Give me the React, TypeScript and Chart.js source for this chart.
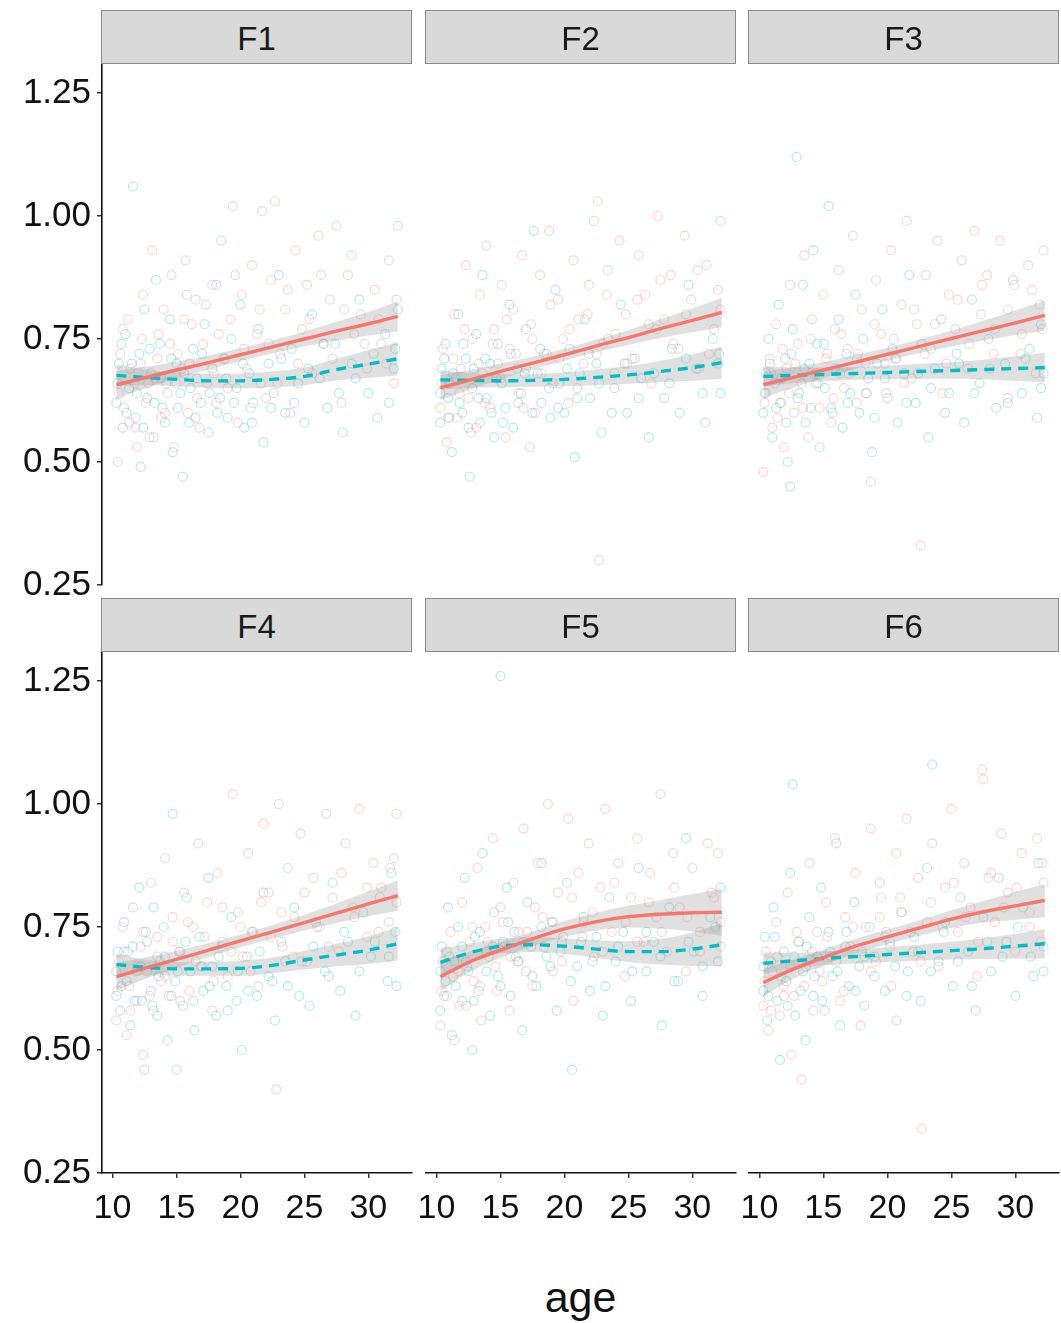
import React, { useEffect, useRef } from 'react';
import { Chart, registerables } from 'chart.js';

Chart.register(...registerables);

// ---- axes ----
const X_TICKS = [10, 15, 20, 25, 30];
const Y_TICKS = [0.25, 0.5, 0.75, 1.0, 1.25];
const X_MIN = 9.18;
const X_MAX = 33.41;
const Y_MIN = 0.25;
const Y_MAX = 1.309;
const X_TITLE = 'age';

// ages at which the smoothed fits are evaluated
const FIT_AGES = [10.3, 12.5, 15, 17.5, 20, 22.5, 25, 27.5, 30, 32.3];

// ---- F1 ----
const F1_PTS_A = [[10.4,0.50],[10.6,0.72],[10.9,0.61],[11.2,0.79],[11.3,0.58],[11.7,0.66],[11.9,0.53],[12.2,0.70],[12.4,0.84],[12.6,0.62],[12.9,0.55],[13.1,0.93],[13.3,0.67],[13.6,0.76],[13.8,0.59],[14.0,0.81],[14.3,0.64],[14.6,0.88],[14.8,0.53],[15.1,0.72],[15.4,0.69],[15.7,0.91],[15.9,0.60],[16.2,0.78],[16.5,0.83],[16.8,0.57],[17.1,0.74],[17.4,0.66],[17.8,0.86],[18.1,0.62],[18.5,0.95],[18.8,0.71],[19.2,0.79],[19.4,1.02],[19.8,0.58],[20.1,0.84],[20.5,0.69],[20.9,0.90],[21.3,0.76],[21.7,1.01],[22.0,0.63],[22.4,0.87],[22.7,1.03],[23.1,0.72],[23.5,0.81],[23.9,0.60],[24.3,0.93],[24.8,0.77],[25.2,0.86],[25.6,0.68],[26.1,0.96],[26.5,0.74],[27.0,0.83],[27.5,0.98],[27.9,0.62],[28.4,0.88],[28.9,0.76],[29.4,0.80],[29.9,0.69],[30.5,0.85],[31.0,0.74],[31.6,0.91],[32.3,0.98],[32.0,0.66]];
const F1_PTS_A_MID = [[10.5,0.64],[10.8,0.77],[11.4,0.69],[11.8,0.57],[12.3,0.75],[12.8,0.66],[13.5,0.71],[14.1,0.60],[14.5,0.74],[15.0,0.66],[15.6,0.79],[16.0,0.70],[16.6,0.63],[17.3,0.82],[17.9,0.68],[18.3,0.76],[19.0,0.65],[19.6,0.88],[20.3,0.73],[20.8,0.61],[21.5,0.81],[22.2,0.74],[22.9,0.66],[23.7,0.85],[24.5,0.70],[25.4,0.79],[26.3,0.88],[27.2,0.71],[28.1,0.81],[28.7,0.92],[29.7,0.74],[30.8,0.79],[31.4,0.70],[32.2,0.83]];
const F1_PTS_B = [[10.3,0.62],[10.5,0.70],[10.8,0.57],[11.0,0.76],[11.3,0.65],[11.6,1.06],[11.8,0.59],[12.1,0.72],[12.2,0.49],[12.5,0.81],[12.7,0.63],[13.0,0.68],[13.2,0.55],[13.4,0.87],[13.7,0.74],[13.9,0.61],[14.2,0.66],[14.5,0.79],[14.7,0.52],[15.0,0.70],[15.3,0.64],[15.5,0.47],[15.8,0.84],[16.0,0.58],[16.3,0.73],[16.6,0.67],[16.9,0.62],[17.2,0.78],[17.5,0.56],[17.8,0.69],[18.1,0.86],[18.4,0.63],[18.7,0.71],[19.0,0.59],[19.3,0.75],[19.7,0.65],[20.0,0.82],[20.3,0.57],[20.7,0.68],[21.0,0.62],[21.4,0.77],[21.8,0.54],[22.2,0.70],[22.6,0.64],[23.0,0.88],[23.5,0.60],[24.0,0.73],[24.5,0.66],[25.0,0.58],[25.6,0.80],[26.2,0.67],[26.8,0.61],[27.4,0.74],[28.0,0.56],[28.7,0.70],[29.3,0.83],[30.0,0.64],[30.7,0.59],[31.3,0.76],[32.0,0.69],[32.3,0.81]];
const F1_PTS_B_MID = [[10.4,0.66],[10.7,0.74],[11.1,0.60],[11.5,0.70],[11.9,0.64],[12.4,0.57],[12.9,0.73],[13.3,0.62],[13.8,0.67],[14.1,0.58],[14.6,0.71],[15.1,0.61],[15.6,0.68],[16.1,0.65],[16.5,0.59],[17.0,0.72],[17.6,0.64],[18.2,0.60],[18.9,0.67],[19.5,0.62],[20.2,0.70],[20.9,0.58],[21.6,0.66],[22.4,0.61],[23.2,0.71],[24.2,0.62],[25.3,0.69],[26.5,0.74],[27.7,0.64],[29.0,0.67],[30.4,0.72],[31.6,0.62],[32.1,0.73]];
const F1_FIT_A = [0.657, 0.671, 0.687, 0.702, 0.718, 0.734, 0.750, 0.766, 0.781, 0.796];
const F1_SE_A = [0.028, 0.022, 0.017, 0.014, 0.013, 0.013, 0.015, 0.019, 0.024, 0.030];
const F1_FIT_B = [0.676, 0.672, 0.668, 0.665, 0.665, 0.668, 0.674, 0.688, 0.699, 0.710];
const F1_SE_B = [0.022, 0.016, 0.014, 0.014, 0.015, 0.016, 0.018, 0.022, 0.028, 0.034];

// ---- F2 ----
const F2_PTS_A = [[10.3,0.61],[10.5,0.73],[10.8,0.54],[11.0,0.66],[11.4,0.80],[11.6,0.59],[11.9,0.69],[12.3,0.90],[12.5,0.63],[12.8,0.75],[13.1,0.57],[13.4,0.84],[13.6,0.68],[13.9,0.94],[14.2,0.61],[14.5,0.77],[14.8,0.70],[15.1,0.86],[15.4,0.55],[15.7,0.73],[16.0,0.81],[16.4,0.64],[16.7,0.92],[17.0,0.69],[17.4,0.78],[17.7,0.60],[18.1,0.88],[18.4,0.72],[18.8,0.97],[19.1,0.66],[19.5,0.83],[19.9,0.75],[20.3,0.62],[20.7,0.91],[21.1,0.79],[21.5,0.70],[21.9,0.86],[22.3,0.99],[22.6,1.03],[22.7,0.30],[23.0,0.74],[23.4,0.89],[23.9,0.68],[24.3,0.95],[24.8,0.80],[25.3,0.71],[25.8,0.92],[26.3,0.84],[26.8,0.66],[27.3,1.00],[27.8,0.79],[28.3,0.88],[28.9,0.73],[29.4,0.96],[29.9,0.83],[30.5,0.69],[31.1,0.90],[31.7,0.77],[32.2,0.99],[32.0,0.85]];
const F2_PTS_A_MID = [[10.4,0.66],[10.9,0.59],[11.3,0.71],[11.8,0.64],[12.2,0.77],[12.7,0.56],[13.3,0.70],[13.8,0.62],[14.4,0.74],[15.0,0.67],[15.5,0.79],[16.2,0.72],[16.8,0.61],[17.5,0.75],[18.2,0.68],[18.9,0.82],[19.6,0.71],[20.4,0.77],[21.0,0.65],[21.8,0.80],[22.5,0.72],[23.3,0.84],[24.0,0.76],[24.9,0.70],[25.7,0.83],[26.6,0.78],[27.5,0.87],[28.5,0.74],[29.5,0.80],[30.4,0.89],[31.3,0.72],[32.2,0.81]];
const F2_PTS_B = [[10.3,0.58],[10.4,0.69],[10.7,0.74],[10.9,0.63],[11.2,0.52],[11.5,0.67],[11.7,0.80],[12.0,0.60],[12.3,0.71],[12.6,0.47],[12.8,0.65],[13.1,0.76],[13.4,0.58],[13.6,0.88],[13.9,0.63],[14.2,0.70],[14.5,0.55],[14.8,0.74],[15.1,0.66],[15.4,0.61],[15.7,0.82],[16.0,0.57],[16.3,0.69],[16.6,0.64],[17.0,0.77],[17.3,0.53],[17.6,0.97],[17.9,0.68],[18.2,0.62],[18.6,0.72],[18.9,0.59],[19.3,0.85],[19.6,0.66],[20.0,0.60],[20.4,0.73],[20.8,0.51],[21.2,0.68],[21.6,0.79],[22.0,0.63],[22.5,0.70],[22.9,0.56],[23.4,0.75],[23.9,0.65],[24.4,0.82],[24.9,0.60],[25.5,0.71],[26.0,0.67],[26.6,0.55],[27.2,0.77],[27.8,0.63],[28.4,0.73],[29.0,0.60],[29.7,0.86],[30.3,0.69],[31.0,0.58],[31.6,0.75],[32.2,0.64],[32.1,0.72]];
const F2_PTS_B_MID = [[10.3,0.64],[10.6,0.71],[11.0,0.59],[11.3,0.68],[11.8,0.62],[12.1,0.74],[12.5,0.57],[12.9,0.69],[13.3,0.63],[13.8,0.71],[14.3,0.60],[14.7,0.67],[15.2,0.58],[15.8,0.72],[16.4,0.62],[16.9,0.68],[17.5,0.60],[18.1,0.73],[18.8,0.65],[19.5,0.61],[20.2,0.69],[21.0,0.63],[21.9,0.72],[22.7,0.66],[23.7,0.60],[24.7,0.70],[25.8,0.63],[27.0,0.68],[28.2,0.66],[29.5,0.71],[30.8,0.64],[32.0,0.70]];
const F2_FIT_A = [0.651, 0.666, 0.684, 0.701, 0.718, 0.736, 0.753, 0.771, 0.788, 0.804];
const F2_SE_A = [0.026, 0.020, 0.016, 0.013, 0.012, 0.013, 0.015, 0.019, 0.024, 0.030];
const F2_FIT_B = [0.667, 0.666, 0.665, 0.666, 0.668, 0.672, 0.677, 0.684, 0.692, 0.702];
const F2_SE_B = [0.020, 0.015, 0.013, 0.013, 0.014, 0.016, 0.018, 0.022, 0.027, 0.033];

// ---- F3 ----
const F3_PTS_A = [[10.3,0.48],[10.5,0.64],[10.8,0.71],[11.0,0.57],[11.3,0.78],[11.6,0.62],[11.9,0.53],[12.1,0.69],[12.4,0.86],[12.7,0.60],[13.0,0.74],[13.3,0.66],[13.5,0.92],[13.8,0.55],[14.1,0.79],[14.4,0.68],[14.7,0.61],[15.0,0.84],[15.3,0.72],[15.6,0.58],[15.9,0.77],[16.2,0.89],[16.6,0.65],[16.9,0.73],[17.3,0.96],[17.6,0.62],[18.0,0.81],[18.3,0.70],[18.7,0.46],[19.1,0.87],[19.5,0.76],[19.9,0.64],[20.3,0.93],[20.7,0.71],[21.1,0.82],[21.5,0.99],[21.9,0.67],[22.3,0.78],[22.6,0.33],[23.0,0.88],[23.4,0.73],[23.9,0.95],[24.3,0.64],[24.8,0.84],[25.3,0.77],[25.8,0.91],[26.3,0.69],[26.8,0.97],[27.3,0.80],[27.8,0.88],[28.3,0.72],[28.8,0.95],[29.4,0.63],[29.9,0.86],[30.5,0.76],[31.0,0.90],[31.6,0.68],[32.2,0.93],[31.9,0.82]];
const F3_PTS_A_MID = [[10.4,0.62],[10.9,0.68],[11.4,0.59],[11.8,0.73],[12.3,0.64],[12.8,0.70],[13.4,0.61],[14.0,0.75],[14.6,0.66],[15.2,0.71],[15.8,0.63],[16.4,0.76],[17.0,0.68],[17.7,0.72],[18.4,0.64],[19.0,0.78],[19.8,0.70],[20.5,0.75],[21.3,0.66],[22.1,0.81],[22.9,0.72],[23.7,0.78],[24.6,0.70],[25.5,0.83],[26.4,0.74],[27.4,0.86],[28.4,0.77],[29.4,0.81],[30.4,0.72],[31.3,0.85],[32.1,0.77]];
const F3_PTS_B = [[10.3,0.60],[10.5,0.68],[10.7,0.75],[11.0,0.55],[11.2,0.66],[11.5,0.82],[11.7,0.62],[12.0,0.71],[12.2,0.50],[12.4,0.45],[12.6,0.77],[12.9,1.12],[13.1,0.64],[13.4,0.86],[13.6,0.58],[13.9,0.70],[14.2,0.93],[14.4,0.66],[14.7,0.53],[15.0,0.74],[15.4,1.02],[15.6,0.61],[15.9,0.69],[16.2,0.79],[16.5,0.57],[16.8,0.72],[17.1,0.64],[17.5,0.84],[17.8,0.60],[18.1,0.75],[18.5,0.67],[18.8,0.52],[19.2,0.70],[19.6,0.81],[20.0,0.63],[20.4,0.73],[20.8,0.58],[21.3,0.68],[21.7,0.88],[22.2,0.62],[22.7,0.74],[23.2,0.55],[23.7,0.69],[24.2,0.79],[24.8,0.64],[25.4,0.72],[26.0,0.58],[26.6,0.83],[27.2,0.66],[27.9,0.75],[28.5,0.61],[29.2,0.70],[29.8,0.87],[30.5,0.64],[31.1,0.73],[31.7,0.59],[32.2,0.68],[32.0,0.78]];
const F3_PTS_B_MID = [[10.4,0.64],[10.8,0.70],[11.3,0.61],[11.7,0.67],[12.1,0.58],[12.5,0.72],[13.0,0.63],[13.5,0.69],[14.0,0.61],[14.5,0.74],[15.1,0.65],[15.7,0.60],[16.3,0.68],[16.9,0.62],[17.6,0.71],[18.3,0.64],[19.0,0.59],[19.8,0.67],[20.6,0.71],[21.5,0.62],[22.4,0.68],[23.4,0.65],[24.5,0.60],[25.6,0.70],[26.8,0.64],[28.0,0.69],[29.4,0.62],[30.8,0.71],[32.0,0.65]];
const F3_FIT_A = [0.657, 0.671, 0.687, 0.703, 0.719, 0.735, 0.751, 0.767, 0.783, 0.798];
const F3_SE_A = [0.027, 0.021, 0.016, 0.014, 0.013, 0.014, 0.016, 0.020, 0.025, 0.031];
const F3_FIT_B = [0.674, 0.676, 0.678, 0.680, 0.682, 0.684, 0.686, 0.688, 0.690, 0.692];
const F3_SE_B = [0.021, 0.016, 0.014, 0.013, 0.014, 0.015, 0.017, 0.020, 0.025, 0.030];

// ---- F4 ----
const F4_PTS_A = [[10.3,0.56],[10.5,0.68],[10.8,0.75],[11.1,0.53],[11.3,0.63],[11.6,0.79],[11.9,0.60],[12.2,0.71],[12.4,0.49],[12.7,0.66],[13.0,0.84],[13.2,0.58],[13.5,0.73],[13.8,0.64],[14.1,0.89],[14.4,0.61],[14.7,0.77],[15.0,0.46],[15.3,0.70],[15.6,0.82],[16.0,0.62],[16.3,0.75],[16.7,0.92],[17.0,0.67],[17.4,0.80],[17.8,0.58],[18.2,0.86],[18.6,0.72],[19.0,0.65],[19.4,1.02],[19.8,0.78],[20.2,0.69],[20.6,0.90],[21.0,0.74],[21.4,0.63],[21.8,0.96],[22.2,0.82],[22.8,0.42],[23.0,1.00],[23.3,0.71],[23.7,0.87],[24.2,0.77],[24.7,0.94],[25.2,0.68],[25.7,0.85],[26.2,0.75],[26.7,0.98],[27.2,0.81],[27.7,0.70],[28.2,0.92],[28.8,0.79],[29.3,0.99],[29.9,0.73],[30.4,0.88],[31.0,0.83],[31.6,0.76],[32.2,0.98],[32.0,0.89]];
const F4_PTS_A_MID = [[10.4,0.62],[10.9,0.70],[11.4,0.58],[11.9,0.67],[12.4,0.74],[12.9,0.61],[13.5,0.69],[14.1,0.65],[14.7,0.72],[15.3,0.60],[15.9,0.76],[16.5,0.68],[17.2,0.73],[17.9,0.64],[18.6,0.79],[19.3,0.70],[20.0,0.75],[20.8,0.66],[21.6,0.80],[22.4,0.73],[23.2,0.78],[24.1,0.69],[25.0,0.82],[25.9,0.76],[26.9,0.71],[27.9,0.86],[28.9,0.77],[29.9,0.83],[30.8,0.74],[31.7,0.87],[32.2,0.80]];
const F4_PTS_B = [[10.3,0.61],[10.4,0.70],[10.6,0.58],[10.9,0.76],[11.1,0.64],[11.4,0.55],[11.6,0.71],[11.9,0.66],[12.1,0.83],[12.3,0.60],[12.5,0.46],[12.7,0.72],[13.0,0.62],[13.2,0.79],[13.5,0.57],[13.7,0.68],[14.0,0.75],[14.3,0.52],[14.7,0.98],[14.9,0.64],[15.2,0.70],[15.5,0.59],[15.8,0.81],[16.1,0.66],[16.4,0.54],[16.8,0.73],[17.1,0.62],[17.5,0.85],[17.8,0.67],[18.1,0.57],[18.5,0.71],[18.9,0.63],[19.3,0.77],[19.7,0.60],[20.1,0.50],[20.5,0.69],[20.9,0.74],[21.3,0.61],[21.8,0.82],[22.2,0.65],[22.7,0.56],[23.2,0.72],[23.7,0.63],[24.2,0.79],[24.8,0.68],[25.4,0.59],[26.0,0.75],[26.6,0.66],[27.2,0.84],[27.8,0.62],[28.4,0.72],[29.0,0.57],[29.6,0.78],[30.2,0.69],[30.9,0.81],[31.5,0.64],[32.1,0.74],[31.8,0.86]];
const F4_PTS_B_MID = [[10.3,0.66],[10.7,0.63],[11.2,0.70],[11.7,0.60],[12.2,0.67],[12.6,0.74],[13.1,0.59],[13.6,0.65],[14.1,0.69],[14.6,0.61],[15.1,0.66],[15.7,0.72],[16.3,0.60],[16.9,0.67],[17.6,0.63],[18.3,0.69],[19.0,0.58],[19.8,0.66],[20.6,0.62],[21.5,0.70],[22.5,0.64],[23.5,0.68],[24.6,0.61],[25.7,0.71],[26.9,0.65],[28.1,0.74],[29.3,0.66],[30.5,0.72],[31.6,0.69],[32.2,0.63]];
const F4_FIT_A = [0.649, 0.666, 0.684, 0.703, 0.722, 0.740, 0.759, 0.778, 0.797, 0.814];
const F4_SE_A = [0.028, 0.022, 0.017, 0.014, 0.013, 0.014, 0.016, 0.020, 0.025, 0.031];
const F4_FIT_B = [0.674, 0.668, 0.665, 0.665, 0.666, 0.672, 0.683, 0.693, 0.703, 0.716];
const F4_SE_B = [0.022, 0.016, 0.014, 0.014, 0.015, 0.016, 0.019, 0.023, 0.028, 0.034];

// ---- F5 ----
const F5_PTS_A = [[10.3,0.55],[10.5,0.68],[10.8,0.61],[11.1,0.74],[11.4,0.52],[11.7,0.66],[12.0,0.80],[12.3,0.59],[12.6,0.72],[12.9,0.64],[13.2,0.87],[13.5,0.56],[13.8,0.75],[14.1,0.69],[14.4,0.93],[14.7,0.62],[15.0,0.79],[15.3,0.71],[15.7,0.58],[16.0,0.84],[16.4,0.68],[16.8,0.95],[17.1,0.74],[17.5,0.63],[17.9,0.88],[18.3,0.77],[18.7,1.00],[19.1,0.66],[19.5,0.82],[19.9,0.73],[20.3,0.97],[20.7,0.60],[21.1,0.86],[21.5,0.76],[21.9,0.92],[22.3,0.69],[22.8,0.83],[23.2,0.99],[23.7,0.74],[24.2,0.88],[24.7,0.65],[25.2,0.81],[25.7,0.93],[26.2,0.72],[26.7,0.86],[27.2,0.77],[27.5,1.02],[28.0,0.70],[28.5,0.90],[29.0,0.79],[29.5,0.66],[30.0,0.87],[30.6,0.74],[31.2,0.92],[31.7,0.81],[32.2,0.71],[32.0,0.90]];
const F5_PTS_A_MID = [[10.4,0.62],[10.8,0.70],[11.3,0.65],[11.8,0.59],[12.3,0.68],[12.8,0.75],[13.4,0.63],[14.0,0.72],[14.6,0.67],[15.2,0.76],[15.8,0.69],[16.4,0.74],[17.0,0.66],[17.7,0.79],[18.4,0.71],[19.1,0.76],[19.8,0.68],[20.6,0.81],[21.4,0.73],[22.2,0.78],[23.0,0.70],[23.9,0.84],[24.8,0.76],[25.7,0.72],[26.6,0.80],[27.6,0.74],[28.6,0.83],[29.6,0.77],[30.6,0.70],[31.5,0.82],[32.2,0.76]];
const F5_PTS_B = [[10.3,0.58],[10.4,0.71],[10.7,0.64],[10.9,0.79],[11.2,0.53],[11.4,0.68],[11.7,0.75],[12.0,0.60],[12.2,0.85],[12.5,0.66],[12.8,0.50],[13.0,0.73],[13.3,0.62],[13.6,0.90],[13.9,0.70],[14.2,0.57],[14.5,0.78],[14.8,0.65],[15.0,1.26],[15.2,0.72],[15.5,0.83],[15.8,0.61],[16.1,0.74],[16.4,0.68],[16.7,0.54],[17.1,0.80],[17.4,0.71],[17.8,0.63],[18.2,0.88],[18.6,0.69],[19.0,0.76],[19.4,0.58],[19.8,0.72],[20.2,0.84],[20.6,0.46],[21.0,0.67],[21.5,0.77],[22.0,0.62],[22.5,0.73],[23.0,0.57],[23.5,0.81],[24.0,0.68],[24.6,0.74],[25.2,0.60],[25.8,0.87],[26.4,0.66],[27.0,0.72],[27.6,0.55],[28.2,0.79],[28.9,0.64],[29.5,0.93],[30.1,0.70],[30.8,0.61],[31.4,0.77],[32.0,0.68],[32.2,0.83]];
const F5_PTS_B_MID = [[10.3,0.66],[10.6,0.61],[11.0,0.69],[11.5,0.63],[12.0,0.71],[12.4,0.67],[12.9,0.60],[13.4,0.74],[13.9,0.66],[14.4,0.71],[15.0,0.63],[15.6,0.76],[16.2,0.69],[16.8,0.72],[17.5,0.65],[18.2,0.75],[18.9,0.67],[19.7,0.70],[20.5,0.64],[21.3,0.72],[22.2,0.68],[23.2,0.63],[24.2,0.71],[25.3,0.66],[26.4,0.74],[27.5,0.69],[28.6,0.64],[29.7,0.72],[30.8,0.67],[31.8,0.75]];
const F5_FIT_A = [0.649, 0.678, 0.703, 0.726, 0.746, 0.761, 0.771, 0.776, 0.779, 0.780];
const F5_SE_A = [0.030, 0.021, 0.016, 0.015, 0.016, 0.018, 0.022, 0.029, 0.038, 0.048];
const F5_FIT_B = [0.678, 0.697, 0.711, 0.714, 0.711, 0.705, 0.700, 0.700, 0.705, 0.714];
const F5_SE_B = [0.028, 0.019, 0.015, 0.015, 0.016, 0.018, 0.021, 0.026, 0.034, 0.044];

// ---- F6 ----
const F6_PTS_A = [[10.3,0.59],[10.5,0.70],[10.7,0.54],[11.0,0.66],[11.3,0.76],[11.6,0.57],[11.9,0.63],[12.2,0.82],[12.5,0.49],[12.7,0.61],[13.0,0.72],[13.3,0.44],[13.6,0.67],[13.9,0.88],[14.2,0.58],[14.5,0.74],[14.9,0.64],[15.2,0.80],[15.6,0.69],[15.9,0.93],[16.3,0.60],[16.7,0.77],[17.1,0.71],[17.5,0.86],[17.9,0.55],[18.3,0.75],[18.7,0.95],[19.1,0.68],[19.5,0.81],[19.9,0.74],[20.3,0.63],[20.7,0.90],[21.1,0.78],[21.5,0.97],[22.0,0.70],[22.4,0.85],[22.7,0.34],[23.1,0.76],[23.5,0.92],[24.0,0.67],[24.5,0.83],[25.0,0.99],[25.5,0.74],[26.0,0.88],[26.5,0.79],[27.0,0.65],[27.4,1.07],[27.5,1.05],[27.9,0.85],[28.4,0.76],[28.9,0.94],[29.4,0.82],[30.0,0.70],[30.5,0.90],[31.1,0.78],[31.7,0.93],[32.2,0.84],[32.0,0.72]];
const F6_PTS_A_MID = [[10.4,0.64],[10.9,0.58],[11.4,0.69],[11.9,0.61],[12.4,0.67],[12.9,0.74],[13.5,0.63],[14.1,0.70],[14.7,0.66],[15.3,0.73],[16.0,0.68],[16.6,0.62],[17.3,0.75],[18.0,0.70],[18.7,0.66],[19.4,0.77],[20.2,0.71],[21.0,0.81],[21.8,0.74],[22.6,0.68],[23.4,0.80],[24.3,0.75],[25.2,0.84],[26.1,0.77],[27.1,0.72],[28.1,0.86],[29.1,0.79],[30.1,0.83],[31.1,0.75],[32.1,0.88]];
const F6_PTS_B = [[10.3,0.62],[10.4,0.73],[10.6,0.56],[10.9,0.68],[11.1,0.79],[11.4,0.60],[11.6,0.48],[11.9,0.70],[12.1,0.64],[12.4,0.86],[12.6,1.04],[12.8,0.57],[13.1,0.72],[13.4,0.66],[13.6,0.52],[13.9,0.77],[14.2,0.61],[14.5,0.69],[14.8,0.83],[15.1,0.58],[15.4,0.74],[15.7,0.65],[16.0,0.92],[16.3,0.55],[16.7,0.71],[17.0,0.63],[17.4,0.80],[17.8,0.67],[18.2,0.59],[18.6,0.75],[19.0,0.69],[19.4,0.84],[19.8,0.62],[20.2,0.72],[20.7,0.56],[21.1,0.78],[21.6,0.66],[22.1,0.73],[22.6,0.60],[23.1,0.87],[23.5,1.08],[24.0,0.68],[24.5,0.76],[25.1,0.63],[25.7,0.81],[26.3,0.70],[26.9,0.58],[27.5,0.77],[28.1,0.66],[28.7,0.85],[29.3,0.72],[30.0,0.61],[30.6,0.79],[31.2,0.69],[31.8,0.88],[32.2,0.66]];
const F6_PTS_B_MID = [[10.3,0.67],[10.7,0.61],[11.2,0.73],[11.7,0.65],[12.2,0.59],[12.7,0.69],[13.2,0.62],[13.7,0.71],[14.3,0.65],[14.9,0.60],[15.5,0.70],[16.1,0.66],[16.8,0.74],[17.5,0.62],[18.2,0.69],[19.0,0.65],[19.8,0.73],[20.6,0.67],[21.5,0.61],[22.4,0.70],[23.4,0.66],[24.4,0.74],[25.5,0.68],[26.6,0.63],[27.8,0.72],[29.0,0.69],[30.2,0.75],[31.4,0.65],[32.2,0.71]];
const F6_FIT_A = [0.637, 0.663, 0.688, 0.711, 0.730, 0.748, 0.766, 0.781, 0.793, 0.804];
const F6_SE_A = [0.028, 0.020, 0.016, 0.015, 0.015, 0.016, 0.018, 0.022, 0.028, 0.034];
const F6_FIT_B = [0.676, 0.681, 0.686, 0.690, 0.694, 0.698, 0.702, 0.706, 0.711, 0.716];
const F6_SE_B = [0.022, 0.016, 0.014, 0.014, 0.015, 0.016, 0.018, 0.021, 0.025, 0.030];

const PANELS = [
  { label: 'F1', ptsA: [...F1_PTS_A, ...F1_PTS_A_MID], ptsB: [...F1_PTS_B, ...F1_PTS_B_MID], fitA: F1_FIT_A, seA: F1_SE_A, fitB: F1_FIT_B, seB: F1_SE_B },
  { label: 'F2', ptsA: [...F2_PTS_A, ...F2_PTS_A_MID], ptsB: [...F2_PTS_B, ...F2_PTS_B_MID], fitA: F2_FIT_A, seA: F2_SE_A, fitB: F2_FIT_B, seB: F2_SE_B },
  { label: 'F3', ptsA: [...F3_PTS_A, ...F3_PTS_A_MID], ptsB: [...F3_PTS_B, ...F3_PTS_B_MID], fitA: F3_FIT_A, seA: F3_SE_A, fitB: F3_FIT_B, seB: F3_SE_B },
  { label: 'F4', ptsA: [...F4_PTS_A, ...F4_PTS_A_MID], ptsB: [...F4_PTS_B, ...F4_PTS_B_MID], fitA: F4_FIT_A, seA: F4_SE_A, fitB: F4_FIT_B, seB: F4_SE_B },
  { label: 'F5', ptsA: [...F5_PTS_A, ...F5_PTS_A_MID], ptsB: [...F5_PTS_B, ...F5_PTS_B_MID], fitA: F5_FIT_A, seA: F5_SE_A, fitB: F5_FIT_B, seB: F5_SE_B },
  { label: 'F6', ptsA: [...F6_PTS_A, ...F6_PTS_A_MID], ptsB: [...F6_PTS_B, ...F6_PTS_B_MID], fitA: F6_FIT_A, seA: F6_SE_A, fitB: F6_FIT_B, seB: F6_SE_B },
];

// ---- styling / layout ----
const FONT = '"Liberation Sans", Arial, Helvetica, sans-serif';
const COLOR_A = '248,118,109';
const COLOR_B = '0,191,196';
const POINT_ALPHA = 0.3;
const BAND_FILL = 'rgba(153,153,153,0.3)';
const COL_X = [102, 426, 749];
const ROW_Y = [64, 652];
const PANEL_W = 310;
const PANEL_H = 521;
const STRIP_H = 54;
const PAD = 30;
const X_AXIS_H = 70;
const X_TICK_FONT = 34;
const Y_TICK_FONT = 35;

function pointDataset(pts: number[][], rgb: string) {
  const c = `rgba(${rgb},${POINT_ALPHA})`;
  return {
    type: 'scatter' as const,
    data: pts.map(([x, y]) => ({ x, y })),
    showLine: false,
    pointRadius: 4.5,
    pointBorderWidth: 1.2,
    pointBorderColor: c,
    borderColor: c,
    pointBackgroundColor: 'rgba(0,0,0,0)',
    backgroundColor: 'rgba(0,0,0,0)',
    order: 10,
  };
}

function bandDatasets(fit: number[], se: number[]) {
  const base = {
    type: 'line' as const,
    pointRadius: 0,
    borderWidth: 0,
    borderColor: 'rgba(0,0,0,0)',
    cubicInterpolationMode: 'monotone' as const,
    order: 5,
  };
  return [
    { ...base, data: FIT_AGES.map((x, i) => ({ x, y: fit[i] - se[i] })), fill: false },
    { ...base, data: FIT_AGES.map((x, i) => ({ x, y: fit[i] + se[i] })), fill: '-1', backgroundColor: BAND_FILL },
  ];
}

function fitDataset(fit: number[], rgb: string, dashed: boolean) {
  return {
    type: 'line' as const,
    data: FIT_AGES.map((x, i) => ({ x, y: fit[i] })),
    borderColor: `rgb(${rgb})`,
    borderWidth: 3.4,
    borderDash: dashed ? [10, 7] : [],
    pointRadius: 0,
    fill: false,
    cubicInterpolationMode: 'monotone' as const,
    order: 1,
  };
}

function Panel({ idx }: { idx: number }) {
  const ref = useRef<HTMLCanvasElement>(null);
  const col = idx % 3;
  const row = Math.floor(idx / 3);
  const hasY = col === 0;
  const hasX = row === 1;
  const leftSpace = hasY ? COL_X[0] : PAD;
  const bottomSpace = hasX ? X_AXIS_H : PAD;
  const w = leftSpace + PANEL_W + PAD;
  const h = PAD + PANEL_H + bottomSpace;
  const left = COL_X[col] - leftSpace;
  const top = ROW_Y[row] - PAD;

  useEffect(() => {
    const p = PANELS[idx];
    const datasets: any[] = [
      pointDataset(p.ptsA, COLOR_A),
      pointDataset(p.ptsB, COLOR_B),
      ...bandDatasets(p.fitA, p.seA),
      ...bandDatasets(p.fitB, p.seB),
      fitDataset(p.fitA, COLOR_A, false),
      fitDataset(p.fitB, COLOR_B, true),
    ];
    const chart = new Chart(ref.current as HTMLCanvasElement, {
      type: 'scatter',
      data: { datasets },
      options: {
        animation: false,
        responsive: false,
        maintainAspectRatio: false,
        events: [],
        layout: { padding: { left: hasY ? 0 : PAD, right: PAD, top: PAD, bottom: hasX ? 0 : PAD } },
        plugins: { legend: { display: false }, tooltip: { enabled: false }, title: { display: false } },
        scales: {
          x: {
            type: 'linear',
            min: X_MIN,
            max: X_MAX,
            display: hasX,
            afterFit: (s: any) => { if (hasX) s.height = X_AXIS_H; },
            afterBuildTicks: (s: any) => { s.ticks = X_TICKS.map((v) => ({ value: v })); },
            ticks: {
              color: '#111',
              font: { family: FONT, size: X_TICK_FONT },
              padding: 10,
              maxRotation: 0,
              autoSkip: false,
              callback: (v: any) => String(v),
            },
            grid: { drawOnChartArea: false, drawTicks: true, tickLength: 5, color: '#333', lineWidth: 1.5 },
            border: { display: true, color: '#111', width: 1.6 },
          },
          y: {
            type: 'linear',
            min: Y_MIN,
            max: Y_MAX,
            display: hasY,
            afterFit: (s: any) => { if (hasY) s.width = COL_X[0]; },
            afterBuildTicks: (s: any) => { s.ticks = Y_TICKS.map((v) => ({ value: v })); },
            ticks: {
              color: '#111',
              font: { family: FONT, size: Y_TICK_FONT },
              padding: 6,
              autoSkip: false,
              callback: (v: any) => Number(v).toFixed(2),
            },
            grid: { drawOnChartArea: false, drawTicks: true, tickLength: 5, color: '#333', lineWidth: 1.5 },
            border: { display: true, color: '#111', width: 1.6 },
          },
        },
      } as any,
    });
    return () => chart.destroy();
  }, [idx]);

  return (
    <canvas
      ref={ref}
      width={w}
      height={h}
      style={{ position: 'absolute', left, top, width: w, height: h }}
    />
  );
}

function Strip({ idx }: { idx: number }) {
  const col = idx % 3;
  const row = Math.floor(idx / 3);
  return (
    <div
      style={{
        position: 'absolute',
        left: COL_X[col] - 1,
        top: ROW_Y[row] - STRIP_H,
        width: PANEL_W + 1,
        height: STRIP_H,
        boxSizing: 'border-box',
        background: '#D9D9D9',
        border: '1.5px solid #8a8a8a',
        display: 'flex',
        alignItems: 'center',
        justifyContent: 'center',
        paddingTop: 3,
        fontFamily: FONT,
        fontSize: 33,
        color: '#1A1A1A',
      }}
    >
      {PANELS[idx].label}
    </div>
  );
}

export default function App() {
  return (
    <div
      style={{
        position: 'absolute',
        left: 0,
        top: 0,
        width: 1061,
        height: 1323,
        background: '#ffffff',
        overflow: 'hidden',
        fontFamily: FONT,
      }}
    >
      {PANELS.map((_, i) => <Panel key={`p${i}`} idx={i} />)}
      {PANELS.map((_, i) => <Strip key={`s${i}`} idx={i} />)}
      <div
        style={{
          position: 'absolute',
          left: COL_X[0],
          width: COL_X[2] + PANEL_W - COL_X[0],
          top: 1276,
          textAlign: 'center',
          fontSize: 43,
          lineHeight: '43px',
          color: '#111',
        }}
      >
        {X_TITLE}
      </div>
    </div>
  );
}
